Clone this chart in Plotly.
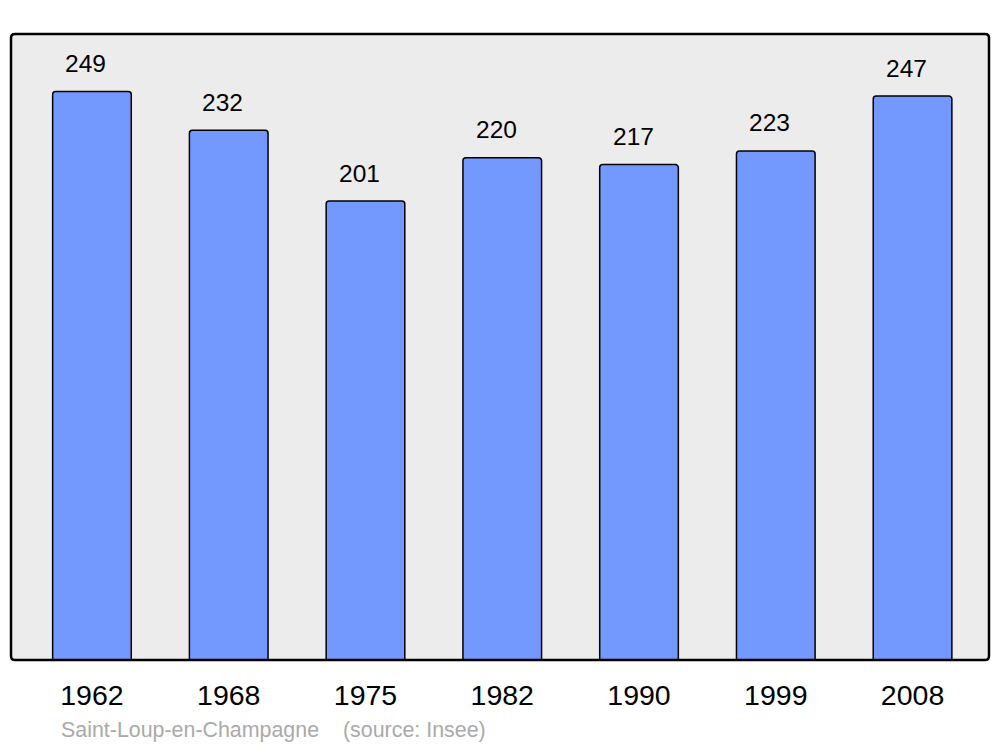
import plotly.graph_objects as go

years = ["1962", "1968", "1975", "1982", "1990", "1999", "2008"]
population = [249, 232, 201, 220, 217, 223, 247]
commune = "Saint-Loup-en-Champagne"
source = "(source: Insee)"

FONT = "Liberation Sans, Arial, sans-serif"

fig = go.Figure()
fig.add_trace(go.Bar(
    x=years, y=population,
    width=0.575,
    marker=dict(color="#7399ff", line=dict(color="#000000", width=1.5), cornerradius=3),
    hoverinfo="skip",
))

for i, v in enumerate(population):
    fig.add_annotation(xref="x", yref="y", x=i, y=v, text=str(v), showarrow=False,
                       xshift=-6, yshift=28, yanchor="middle",
                       font=dict(family=FONT, size=24.5, color="#000000"))

fig.add_annotation(xref="paper", yref="paper", x=(59 - 11) / 978, y=-(730 - 660) / 626,
                   xanchor="left", yanchor="middle", text=commune, showarrow=False,
                   font=dict(family=FONT, size=21.4, color="#aaaaaa"))
fig.add_annotation(xref="paper", yref="paper", x=(341 - 11) / 978, y=-(730 - 660) / 626,
                   xanchor="left", yanchor="middle", text=source, showarrow=False,
                   font=dict(family=FONT, size=21.4, color="#aaaaaa"))

# rounded frame of the plot area
rx, ry = 4 / 978, 4 / 626
path = (f"M {rx},0 L {1-rx},0 Q 1,0 1,{ry} L 1,{1-ry} Q 1,1 {1-rx},1 "
        f"L {rx},1 Q 0,1 0,{1-ry} L 0,{ry} Q 0,0 {rx},0 Z")
fig.add_shape(type="path", xref="paper", yref="paper", path=path,
              line=dict(color="#000000", width=2.5), layer="above")

fig.update_layout(
    width=1000, height=747,
    margin=dict(l=11, r=11, t=34, b=87),
    paper_bgcolor="#ffffff",
    plot_bgcolor="#ececec",
    showlegend=False,
    xaxis=dict(type="category", range=[-0.592, 6.559], showgrid=False, zeroline=False,
               showline=False, ticks="", ticklabelstandoff=15,
               tickfont=dict(family=FONT, size=28.5, color="#000000")),
    yaxis=dict(range=[0, 274.2], showgrid=False, zeroline=False, showline=False,
               showticklabels=False, ticks=""),
)

fig.write_html("out.html", config={"displayModeBar": False},
               post_script="document.body.style.margin='0';")
